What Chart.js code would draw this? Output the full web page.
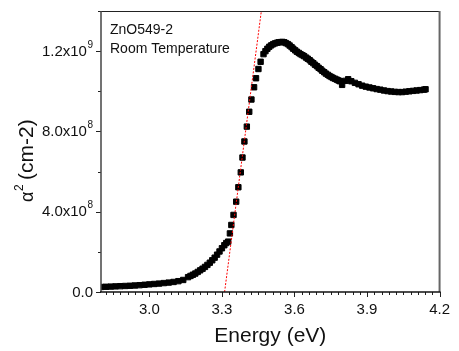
<!DOCTYPE html>
<html>
<head>
<meta charset="utf-8">
<script src="https://cdn.jsdelivr.net/npm/chart.js@4/dist/chart.umd.min.js"></script>
<style>
  html, body { margin: 0; padding: 0; background: #fff; }
  #caja { width: 459px; height: 351px; }
</style>
</head>
<body>
<div id="caja"><canvas id="grafico" width="459" height="351"></canvas></div>
<script>
// datos: energia (eV) y alfa^2 (cm-2)
const energia = [
  2.80, 2.82, 2.84, 2.86, 2.88, 2.90, 2.92, 2.94, 2.96, 2.98,
  3.00, 3.02, 3.04, 3.06, 3.08, 3.10, 3.12, 3.14, 3.16, 3.17,
  3.18, 3.19, 3.20, 3.21, 3.22, 3.23, 3.24, 3.25, 3.26, 3.27,
  3.28, 3.29, 3.30, 3.31, 3.318,
  3.326, 3.333, 3.339, 3.348, 3.359, 3.368, 3.378, 3.385, 3.393, 3.403,
  3.413, 3.422, 3.433, 3.441, 3.451, 3.460,
  3.472, 3.480, 3.488, 3.496, 3.504, 3.512, 3.520, 3.528, 3.535, 3.543,
  3.550, 3.558, 3.565, 3.573, 3.580, 3.588, 3.595, 3.603, 3.610, 3.618,
  3.625, 3.633, 3.640, 3.648, 3.655, 3.663, 3.670, 3.678, 3.685, 3.693,
  3.700, 3.708, 3.715, 3.723, 3.730, 3.738, 3.745, 3.753, 3.760, 3.768,
  3.775, 3.782, 3.788, 3.797, 3.810, 3.822, 3.835, 3.850, 3.865, 3.880,
  3.895, 3.910, 3.925, 3.940, 3.955, 3.970, 3.985, 4.000, 4.015, 4.030,
  4.045, 4.060, 4.075, 4.090, 4.105, 4.120, 4.135, 4.142
];
const alfa2 = [
  2.5e7, 2.6e7, 2.7e7, 2.8e7, 2.9e7, 3.0e7, 3.1e7, 3.25e7, 3.4e7, 3.6e7,
  3.8e7, 4.0e7, 4.2e7, 4.45e7, 4.7e7, 5.0e7, 5.4e7, 6.0e7, 7.4e7, 8.0e7,
  8.6e7, 9.2e7, 1.0e8, 1.08e8, 1.16e8, 1.25e8, 1.35e8, 1.46e8, 1.58e8, 1.71e8,
  1.86e8, 2.02e8, 2.18e8, 2.33e8, 2.44e8,
  2.51e8, 2.92e8, 3.34e8, 3.84e8, 4.50e8, 5.22e8, 5.96e8, 6.70e8, 7.50e8, 8.24e8,
  8.98e8, 9.59e8, 1.020e9, 1.065e9, 1.111e9, 1.147e9,
  1.185e9, 1.200e9, 1.212e9, 1.222e9, 1.229e9, 1.235e9, 1.239e9, 1.242e9, 1.244e9, 1.245e9,
  1.246e9, 1.244e9, 1.240e9, 1.235e9, 1.228e9, 1.220e9, 1.212e9, 1.204e9, 1.197e9, 1.191e9,
  1.185e9, 1.180e9, 1.175e9, 1.168e9, 1.162e9, 1.155e9, 1.147e9, 1.140e9, 1.132e9, 1.125e9,
  1.117e9, 1.110e9, 1.102e9, 1.095e9, 1.088e9, 1.082e9, 1.076e9, 1.071e9, 1.066e9, 1.062e9,
  1.058e9, 1.054e9, 1.050e9, 1.032e9, 1.052e9, 1.060e9, 1.050e9, 1.042e9, 1.035e9, 1.028e9,
  1.023e9, 1.019e9, 1.015e9, 1.011e9, 1.008e9, 1.004e9, 1.001e9, 0.999e9, 0.997e9, 0.996e9,
  0.996e9, 0.998e9, 1.000e9, 1.002e9, 1.004e9, 1.006e9, 1.008e9, 1.010e9
];
// recta de ajuste (borde de absorcion)
const ajusteE = [3.311, 3.463];
const ajusteA = [0, 1.4e9];

// ejes
const ticksX = [3.0, 3.3, 3.6, 3.9, 4.2];
const ticksY = [0, 4e8, 8e8, 1.2e9];
const etiquetasY = ["0.0", "4.0x10", "8.0x10", "1.2x10"];
const exponentesY = ["", "8", "8", "9"];
const menoresX = [2.82, 2.85, 2.88, 2.91, 2.94, 2.97, 3.03, 3.06, 3.09, 3.12, 3.15, 3.18, 3.21, 3.24, 3.27,
  3.33, 3.36, 3.39, 3.42, 3.45, 3.48, 3.51, 3.54, 3.57, 3.63, 3.66, 3.69, 3.72, 3.75, 3.78, 3.81, 3.84, 3.87,
  3.93, 3.96, 3.99, 4.02, 4.05, 4.08, 4.11, 4.14, 4.17];
const menoresY = [2e8, 6e8, 1.0e9, 1.4e9];

const fuente = "'Liberation Sans', Arial, sans-serif";

const puntos = energia.map((e, i) => ({ x: e, y: alfa2[i] }));
const recta = ajusteE.map((e, i) => ({ x: e, y: ajusteA[i] }));

// marco, marcas de ejes y textos que Chart.js no dibuja como queremos
const marco = {
  id: 'marco',
  afterDraw(c) {
    const ctx = c.ctx;
    const a = c.chartArea;
    const sx = c.scales.x, sy = c.scales.y;
    ctx.save();

    // marcas x
    ctx.strokeStyle = '#222';
    ctx.lineWidth = 1;
    ticksX.forEach(v => {
      const px = Math.round(sx.getPixelForValue(v)) + 0.5;
      ctx.beginPath(); ctx.moveTo(px, a.bottom); ctx.lineTo(px, a.bottom + 5); ctx.stroke();
    });
    menoresX.forEach(v => {
      const px = Math.round(sx.getPixelForValue(v)) + 0.5;
      ctx.beginPath(); ctx.moveTo(px, a.bottom); ctx.lineTo(px, a.bottom + 3); ctx.stroke();
    });
    // marcas y
    ticksY.forEach(v => {
      const py = Math.round(sy.getPixelForValue(v)) + 0.5;
      ctx.beginPath(); ctx.moveTo(a.left, py); ctx.lineTo(a.left - 5, py); ctx.stroke();
    });
    menoresY.forEach(v => {
      const py = Math.round(sy.getPixelForValue(v)) + 0.5;
      ctx.beginPath(); ctx.moveTo(a.left, py); ctx.lineTo(a.left - 3, py); ctx.stroke();
    });

    // marco
    ctx.strokeStyle = '#222';
    ctx.lineWidth = 1;
    ctx.beginPath(); ctx.moveTo(a.left, a.top + 0.5); ctx.lineTo(a.right, a.top + 0.5); ctx.stroke();
    ctx.strokeStyle = '#666';
    ctx.lineWidth = 2;
    ctx.beginPath(); ctx.moveTo(a.right, a.top); ctx.lineTo(a.right, a.bottom); ctx.stroke();
    ctx.strokeStyle = '#444';
    ctx.lineWidth = 1.5;
    ctx.beginPath(); ctx.moveTo(a.left, a.top); ctx.lineTo(a.left, a.bottom); ctx.stroke();
    ctx.strokeStyle = '#111';
    ctx.beginPath(); ctx.moveTo(a.left - 1, a.bottom); ctx.lineTo(a.right + 1, a.bottom); ctx.stroke();

    // etiquetas y con exponente
    ctx.fillStyle = '#111';
    ctx.textBaseline = 'middle';
    ticksY.forEach((v, i) => {
      const py = sy.getPixelForValue(v);
      let xd = a.left - 8;
      ctx.font = '10px ' + fuente;
      const we = exponentesY[i] ? ctx.measureText(exponentesY[i]).width : 0;
      if (exponentesY[i]) {
        ctx.textAlign = 'right';
        ctx.fillText(exponentesY[i], xd, py - 6);
        xd -= we + 0.5;
      }
      ctx.font = '15px ' + fuente;
      ctx.textAlign = 'right';
      ctx.fillText(etiquetasY[i], xd, py + 0.5);
    });

    // titulo x
    ctx.font = '21px ' + fuente;
    ctx.textAlign = 'center';
    ctx.fillText('Energy (eV)', (a.left + a.right) / 2, 336);

    // titulo y rotado
    ctx.translate(32.5, 202);
    ctx.rotate(-Math.PI / 2);
    ctx.textAlign = 'left';
    ctx.textBaseline = 'alphabetic';
    ctx.font = '18px ' + fuente;
    const wa = ctx.measureText('α').width;
    ctx.fillText('α', 0, 0);
    ctx.font = '12px ' + fuente;
    ctx.fillText('2', wa + 0.5, -10);
    const w2 = ctx.measureText('2').width;
    ctx.font = '21px ' + fuente;
    ctx.fillText('(cm-2)', wa + w2 + 5, 0);
    ctx.restore();

    // anotacion
    ctx.save();
    ctx.fillStyle = '#111';
    ctx.font = '14px ' + fuente;
    ctx.textAlign = 'left';
    ctx.textBaseline = 'middle';
    ctx.fillText('ZnO549-2', a.left + 9, 30);
    ctx.fillText('Room Temperature', a.left + 9, 49.5);
    ctx.restore();
  }
};

const ctx = document.getElementById('grafico').getContext('2d');
const chart = new Chart(ctx, {
  type: 'scatter',
  data: {
    datasets: [
      {
        type: 'line',
        label: 'Ajuste',
        data: recta,
        borderColor: '#ff0000',
        borderWidth: 1,
        borderDash: [2, 1.5],
        pointRadius: 0,
        fill: false
      },
      {
        label: 'alfa2',
        data: puntos,
        pointStyle: 'rect',
        pointRadius: 3.8,
        borderWidth: 1,
        backgroundColor: '#000',
        borderColor: '#000'
      }
    ]
  },
  options: {
    responsive: false,
    animation: false,
    devicePixelRatio: 1,
    layout: { padding: { top: 11, right: 13, left: 0, bottom: 0 } },
    plugins: { legend: { display: false }, tooltip: { enabled: false } },
    scales: {
      x: {
        type: 'linear',
        min: 2.8,
        max: 4.2,
        afterBuildTicks: s => { s.ticks = ticksX.map(v => ({ value: v })); },
        afterFit: s => { s.height = 59; },
        grid: { display: false, drawTicks: false, tickLength: 0 },
        border: { display: false },
        ticks: {
          autoSkip: false,
          maxRotation: 0,
          padding: 9,
          color: '#111',
          font: { family: fuente, size: 15 },
          callback: v => Number(v).toFixed(1)
        }
      },
      y: {
        type: 'linear',
        min: 0,
        max: 1.4e9,
        afterFit: s => { s.width = 101; },
        grid: { display: false, drawTicks: false },
        border: { display: false },
        ticks: { display: false }
      }
    }
  },
  plugins: [marco]
});
</script>
</body>
</html>
